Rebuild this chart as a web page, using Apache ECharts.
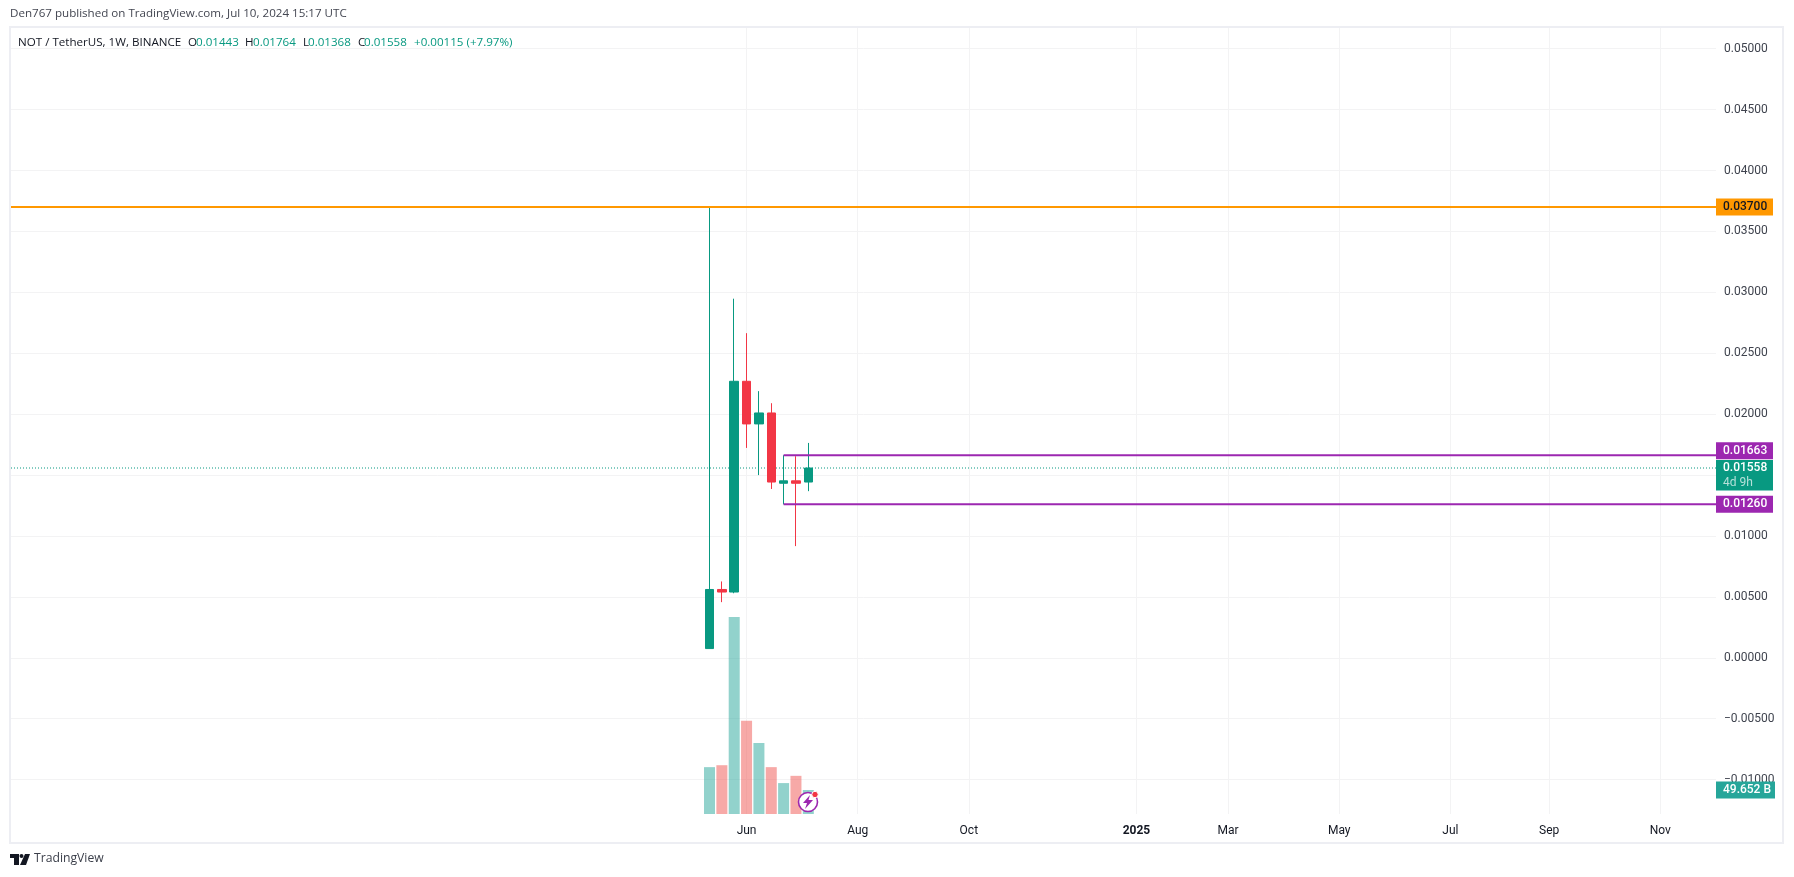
<!DOCTYPE html>
<html><head><meta charset="utf-8">
<style>html,body{margin:0;padding:0;background:#fff}#c{width:1794px;height:877px}</style>
<script src="https://cdn.jsdelivr.net/npm/echarts@6/dist/echarts.min.js"></script>
</head><body><div id="c"></div>
<script>
const weeks = ['2024-05-13','2024-05-20','2024-05-27','2024-06-03','2024-06-10','2024-06-17','2024-06-24','2024-07-01','2024-07-08'];
const opens  = [0.00076,0.00561,0.00540,0.02270,0.01920,0.02010,0.01433,0.01453,0.01443];
const closes = [0.00561,0.00540,0.02270,0.01920,0.02010,0.01443,0.01453,0.01433,0.01558];
const lows   = [0.00076,0.00457,0.00530,0.01723,0.01500,0.01386,0.01260,0.00917,0.01368];
const highs  = [0.03703,0.00627,0.02948,0.02665,0.02189,0.02090,0.01663,0.01655,0.01764];
const volumes = [97,101,408,193,147,97,64,79,49.652];
const priceTicks = [-0.01,-0.005,0,0.005,0.01,0.015,0.02,0.025,0.03,0.035,0.04,0.045,0.05];
const timeTicks = ['2024-06-03','2024-08-05','2024-10-07','2025-01-10','2025-03-03','2025-05-05','2025-07-07','2025-09-01','2025-11-03'];
const timeLabels = ['Jun','Aug','Oct','2025','Mar','May','Jul','Sep','Nov'];
const resistance = 0.037, upperLevel = 0.01663, lowerLevel = 0.0126, lastPrice = 0.01558;
const xMin = '2023-04-13', xMax = '2025-12-04T14:00:00';
const levelStart = '2024-06-24';

const UP='#089981', DOWN='#F23645', PURPLE='#9C27B0', ORANGE='#FF9800', GRID='#F3F3F4', TXT='#131722';
const FONT='"Open Sans", sans-serif', AXF='Roboto, sans-serif';
const ts = s => Date.parse(s.length===10 ? s+'T00:00:00Z' : s+'Z');
const tagStyle = (bg,w) => ({width:w,height:17,lineHeight:17,padding:[0,0,0,7],backgroundColor:bg,color:'#fff',fontFamily:AXF,fontSize:12,fontWeight:500,align:'left'});
const hdr = (w,c) => ({width:w,fontFamily:FONT,fontSize:11.6,fontWeight:400,color:c,align:'left'});

function levelSeries(name,val,start,color,width,type,tag,offset,z){
  return {type:'line',name,xAxisIndex:0,yAxisIndex:0,symbol:'none',silent:true,animation:false,z,
    data:[[ts(start),val],[ts(xMax),val]],
    lineStyle:{color,width,type},
    endLabel:{show:true,distance:0,position:'right',offset:[0,offset],formatter:tag.text,rich:tag.rich,align:'left',verticalAlign:'middle'}};
}
const option = {
  animation:false,
  backgroundColor:'#fff',
  title:[
    {left:10,top:8,padding:0,text:'Den767 published on TradingView.com, Jul 10, 2024 15:17 UTC',
     textStyle:{fontFamily:FONT,fontSize:11.6,fontWeight:400,color:'#434651'}},
    {left:18,top:37,padding:0,
     text:'{n|NOT / TetherUS, 1W, BINANCE}{o|O}{a|0.01443}{h|H}{b|0.01764}{l|L}{c|0.01368}{d|C}{e|0.01558}{f|+0.00115 (+7.97%)}',
     textStyle:{fontWeight:400,rich:{n:hdr(170,TXT),o:hdr(8,TXT),a:hdr(49,UP),h:hdr(8,TXT),b:hdr(50,UP),l:hdr(5,TXT),c:hdr(50,UP),d:hdr(6,TXT),e:hdr(50,UP),f:hdr(110,UP)}}},
    {left:34,top:853,padding:0,text:'TradingView',textStyle:{fontFamily:FONT,fontSize:12.2,fontWeight:400,color:'#3a3e49'}}
  ],
  grid:[{left:11,right:78,top:28,bottom:63,containLabel:false}],
  xAxis:[{type:'value',min:ts(xMin),max:ts(xMax),scale:true,
    axisLine:{show:false},
    axisTick:{show:false,customValues:timeTicks.map(ts)},
    splitLine:{show:true,lineStyle:{color:GRID,width:1}},
    axisLabel:{show:true,customValues:timeTicks.map(ts),margin:11,hideOverlap:false,
      color:TXT,fontFamily:AXF,fontSize:12,
      formatter:v=>{const i=timeTicks.map(ts).indexOf(v);const l=i<0?'':timeLabels[i];return l==='2025'?'{b|2025}':l;},
      rich:{b:{fontFamily:AXF,fontSize:12,fontWeight:'bold',color:TXT}}}
  }],
  yAxis:[
    {type:'value',position:'right',min:-0.01282,max:0.0517,scale:true,
     axisLine:{show:false},
     axisTick:{show:false,customValues:priceTicks},
     splitLine:{show:true,lineStyle:{color:GRID,width:1}},
     axisLabel:{show:true,customValues:priceTicks,margin:8,padding:[3,0,0,0],color:'#3f434e',fontFamily:AXF,fontSize:12,
       formatter:v=>(v<0?'\u2212':'')+Math.abs(v).toFixed(5)}},
    {type:'value',position:'right',min:0,max:1627,axisLine:{show:false},axisTick:{show:false},splitLine:{show:false},axisLabel:{show:false}}
  ],
  series:[
    {type:'bar',name:'Volume',xAxisIndex:0,yAxisIndex:1,barWidth:11,z:1,silent:true,
     data:weeks.map((w,i)=>({value:[ts(w),volumes[i]],itemStyle:{color:closes[i]>=opens[i]?'rgba(38,166,154,0.5)':'rgba(239,83,80,0.5)'}}))},
    levelSeries('Last',lastPrice,xMin,UP,1.2,[1,2],{
      text:'{a|0.01558}\n{b|4d 9h}',
      rich:{a:{width:50,height:15,lineHeight:15,padding:[0,0,0,7],backgroundColor:UP,color:'#fff',fontFamily:AXF,fontSize:12,fontWeight:500,align:'left'},
            b:{width:50,height:16,lineHeight:15,padding:[0,0,0,7],backgroundColor:UP,color:'#B5E0D9',fontFamily:AXF,fontSize:12,align:'left'}}},7,2),
    {type:'candlestick',name:'NOT/USDT',xAxisIndex:0,yAxisIndex:0,barWidth:9,z:3,silent:true,
     encode:{x:0,y:[1,2,3,4]},
     data:weeks.map((w,i)=>[ts(w),opens[i],closes[i],lows[i],highs[i]]),
     itemStyle:{color:UP,color0:DOWN,borderColor:UP,borderColor0:DOWN,borderWidth:1}},
    levelSeries('Resistance',resistance,xMin,ORANGE,2,'solid',{text:'{a|0.03700}',rich:{a:{...tagStyle(ORANGE,50),color:'#131722'}}},0,4),
    levelSeries('Upper',upperLevel,levelStart,PURPLE,2,'solid',{text:'{a|0.01663}',rich:{a:tagStyle(PURPLE,50)}},-4.5,4),
    levelSeries('Lower',lowerLevel,levelStart,PURPLE,2,'solid',{text:'{a|0.01260}',rich:{a:tagStyle(PURPLE,50)}},0,4),
    {type:'line',name:'VolumeTag',xAxisIndex:0,yAxisIndex:1,symbol:'none',silent:true,z:5,
     data:[[ts(weeks[8]),volumes[8]],[ts(xMax),volumes[8]]],lineStyle:{opacity:0},
     endLabel:{show:true,distance:0,position:'right',formatter:'{a|49.652 B}',align:'left',verticalAlign:'middle',rich:{a:tagStyle('#26A69A',52)}}}
  ],
  graphic:[
    {type:'rect',silent:true,z:0,shape:{x:10,y:27,width:1773,height:816},style:{fill:'none',stroke:'#EDEEF3',lineWidth:2}},
    {type:'circle',silent:true,z:20,shape:{cx:808,cy:802,r:9.5},style:{fill:'#fff',stroke:PURPLE,lineWidth:1.6}},
    {type:'polygon',silent:true,z:21,shape:{points:[[810,795],[803,803],[807,803],[805,809],[813,800],[808.5,800]]},style:{fill:PURPLE}},
    {type:'circle',silent:true,z:22,shape:{cx:815,cy:794.5,r:3.2},style:{fill:DOWN,stroke:'#fff',lineWidth:1}},
    {type:'polygon',silent:true,z:20,shape:{points:[[10,854],[19,854],[19,865],[14,865],[14,858],[10,858]]},style:{fill:TXT}},
    {type:'circle',silent:true,z:20,shape:{cx:21.5,cy:856,r:2},style:{fill:TXT}},
    {type:'polygon',silent:true,z:20,shape:{points:[[25,854],[30,854],[26,865],[20,865]]},style:{fill:TXT}}
  ]
};
const chart = echarts.init(document.getElementById('c'),null,{renderer:'canvas',width:1794,height:877});
chart.setOption(option);
</script></body></html>
